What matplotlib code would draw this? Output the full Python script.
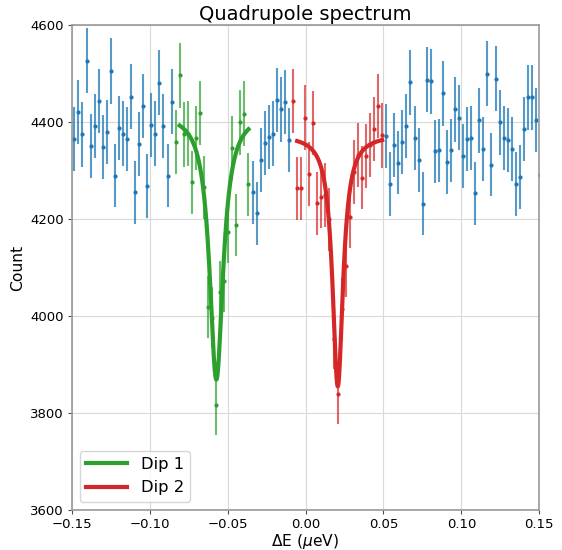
import numpy as np
import matplotlib
matplotlib.use("Agg")
import matplotlib.pyplot as plt

energy = np.linspace(-0.1483, 0.1505, 116)
counts = np.array([
    4365, 4421, 4375, 4527, 4351, 4392, 4444, 4350, 4380, 4506,
    4290, 4389, 4377, 4365, 4453, 4256, 4355, 4434, 4269, 4395,
    4377, 4482, 4392, 4290, 4443,
    # dip 1 region
    4359, 4497, 4375, 4377, 4276, 4368, 4419, 4266, 4019, 3997,
    3817, 4050, 4072, 4174, 4348, 4188, 4400, 4418, 4272,
    4256, 4212, 4322, 4357, 4370, 4377, 4446, 4427, 4442, 4363,
    # dip 2 region
    4444, 4264, 4264, 4410, 4293, 4399, 4233, 4247, 4250, 4200,
    3953, 3839, 4015, 4103, 4205, 4298, 4333, 4286, 4330, 4353,
    4386, 4434, 4373,
    4372, 4273, 4353, 4317, 4359, 4392, 4483, 4368, 4322, 4232,
    4488, 4485, 4340, 4342, 4460, 4318, 4342, 4427, 4410, 4331,
    4366, 4368, 4254, 4404, 4345, 4500, 4313, 4490, 4400, 4367,
    4364, 4345, 4273, 4287, 4387, 4452, 4452, 4405, 4291,
])
errors = np.sqrt(counts)

dip1_idx = (25, 43)
dip2_idx = (54, 76)

# lorentzian fit parameters: baseline, depth, centre, half width
dip1_fit = (4420, 551, -0.0572, 0.0053)
dip2_fit = (4374, 519, 0.0207, 0.0041)


def lorentz(x, base, depth, x0, g):
    return base - depth * g**2 / ((x - x0)**2 + g**2)


fig = plt.figure(figsize=(5.62, 5.5), dpi=100)
ax = fig.add_axes([0.1276, 0.0727, 0.832, 0.881])

bg = np.ones(len(energy), dtype=bool)
bg[dip1_idx[0]:dip1_idx[1] + 1] = False
bg[dip2_idx[0]:dip2_idx[1] + 1] = False

ekw = dict(fmt=".", ms=4, elinewidth=1.5, capsize=0)
ax.errorbar(energy[bg], counts[bg], yerr=errors[bg], color="#1f77b4",
            ecolor=(0.12, 0.47, 0.71, 0.75), **ekw)

for (i0, i1), col, ecol, params, label in [
        (dip1_idx, "#2ca02c", (0.17, 0.63, 0.17, 0.7), dip1_fit, "Dip 1"),
        (dip2_idx, "#d62728", (0.84, 0.15, 0.16, 0.7), dip2_fit, "Dip 2")]:
    sl = slice(i0, i1 + 1)
    ax.errorbar(energy[sl], counts[sl], yerr=errors[sl], color=col,
                ecolor=ecol, **ekw)
    xf = np.linspace(energy[i0 + 1], energy[i1], 400)
    ax.plot(xf, lorentz(xf, *params), color=col, lw=3, label=label, zorder=5)

ax.set_xlim(-0.15, 0.15)
ax.set_ylim(3600, 4600)
ax.set_xticks([-0.15, -0.10, -0.05, 0.00, 0.05, 0.10, 0.15])
ax.set_yticks(np.arange(3600, 4601, 200))
ax.tick_params(labelsize=9.5, length=3, pad=2.5, color="0.3")
ax.grid(True, color="0.85", lw=0.8)
ax.set_axisbelow(True)
for s in ax.spines.values():
    s.set_color("0.6")
    s.set_linewidth(1.2)

ax.set_title("Quadrupole spectrum", fontsize=14, pad=4)
ax.set_xlabel(r"ΔE ($\mu$eV)", fontsize=11.2, labelpad=1)
ax.set_ylabel("Count", fontsize=11.2, labelpad=4)
ax.legend(loc="lower left", fontsize=11.8, handlelength=2.5)

fig.savefig("out.png", dpi=100)
